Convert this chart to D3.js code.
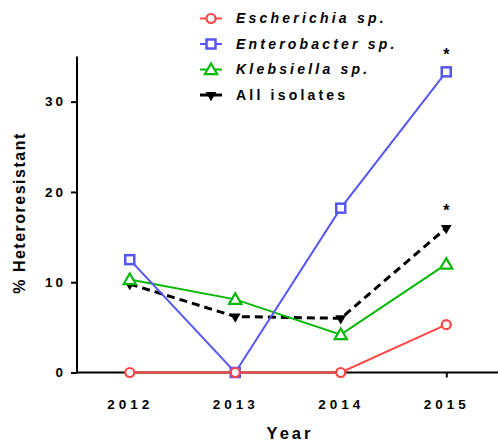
<!DOCTYPE html>
<html>
<head>
<meta charset="utf-8">
<script src="https://cdn.jsdelivr.net/npm/d3@7"></script>
<style>
  body { margin: 0; background: #fff; }
  text { font-family: Arial, "Liberation Sans", sans-serif; font-weight: bold; }
</style>
</head>
<body>
<div id="chart"></div>
<script>
// data
const years = [2012, 2013, 2014, 2015];
const escherichia = [0, 0, 0, 5.3];
const enterobacter = [12.5, 0, 18.2, 33.3];
const klebsiella = [10.3, 8.1, 4.2, 12.0];
const allIsolates = [9.8, 6.2, 6.0, 16.0];
const yTicks = [0, 10, 20, 30];
const seriesNames = ['Escherichia sp.', 'Enterobacter sp.', 'Klebsiella sp.', 'All isolates'];
const starYears = [2015, 2015];
const starValues = [33.3, 16.0];

const width = 498;
const height = 441;

const svg = d3
  .select('#chart')
  .append('svg')
  .attr('width', width)
  .attr('height', height);

const x = d3.scaleLinear().domain([2011.5, 2015.5]).range([77, 499]);
const y = d3.scaleLinear().domain([0, 35]).range([372.5, 56.5]);

const series = [
  { name: seriesNames[0], values: escherichia, color: '#ff4646', shape: 'circle', dash: null, width: 2 },
  { name: seriesNames[1], values: enterobacter, color: '#5656f5', shape: 'square', dash: null, width: 2 },
  { name: seriesNames[2], values: klebsiella, color: '#08b808', shape: 'triangle', dash: null, width: 2 },
  { name: seriesNames[3], values: allIsolates, color: '#000', shape: 'down', dash: '8,5', width: 3 },
];

// axes
const yAxis = svg
  .append('g')
  .attr('transform', 'translate(' + x.range()[0] + ',0)')
  .call(d3.axisLeft(y).tickValues(yTicks).tickSize(6).tickPadding(5));
const xAxis = svg
  .append('g')
  .attr('transform', 'translate(0,' + y(0) + ')')
  .call(d3.axisBottom(x).tickValues(years).tickFormat(d3.format('d')).tickSize(5).tickPadding(22));

[yAxis, xAxis].forEach((a) => {
  a.select('.domain').remove();
  a.selectAll('.tick line').attr('stroke-width', 2);
  a.selectAll('text').attr('font-size', 13.5).attr('letter-spacing', '3px').attr('fill', '#000');
});
xAxis.selectAll('text').attr('letter-spacing', '4px');
svg.append('line').attr('x1', x.range()[0]).attr('x2', x.range()[0])
  .attr('y1', y.range()[1]).attr('y2', y(0) + 1).attr('stroke', '#000').attr('stroke-width', 2);
svg.append('line').attr('x1', x.range()[0] - 1).attr('x2', x.range()[1])
  .attr('y1', y(0)).attr('y2', y(0)).attr('stroke', '#000').attr('stroke-width', 2);

// axis titles
svg.append('text')
  .attr('x', 290)
  .attr('y', 439)
  .attr('text-anchor', 'middle')
  .attr('font-size', 16.5)
  .attr('letter-spacing', '3px')
  .text('Year');
svg.append('text')
  .attr('transform', 'translate(25,213) rotate(-90)')
  .attr('text-anchor', 'middle')
  .attr('font-size', 16)
  .attr('letter-spacing', '1.5px')
  .text('% Heteroresistant');

// markers
function drawMarker(g, shape, color, cx, cy) {
  if (shape === 'circle') {
    g.append('circle').attr('cx', cx).attr('cy', cy).attr('r', 4.5)
      .attr('fill', '#fff').attr('stroke', color).attr('stroke-width', 2.2);
  } else if (shape === 'square') {
    g.append('rect').attr('x', cx - 4.5).attr('y', cy - 4.5).attr('width', 9).attr('height', 9)
      .attr('fill', '#fff').attr('stroke', color).attr('stroke-width', 2.5);
  } else if (shape === 'triangle') {
    g.append('path').attr('d', d3.symbol(d3.symbolTriangle, 65)())
      .attr('transform', 'translate(' + cx + ',' + (cy + 1) + ')')
      .attr('fill', '#fff').attr('stroke', color).attr('stroke-width', 2.2);
  } else {
    g.append('path').attr('d', d3.symbol(d3.symbolTriangle, 50)())
      .attr('transform', 'translate(' + cx + ',' + cy + ') rotate(180)')
      .attr('fill', color);
  }
}

const line = d3
  .line()
  .x((d, i) => x(years[i]))
  .y((d) => y(d));

const drawOrder = [3, 2, 1, 0];
drawOrder.forEach((k) => {
  const s = series[k];
  const g = svg.append('g');
  g.append('path')
    .datum(s.values)
    .attr('d', line)
    .attr('fill', 'none')
    .attr('stroke', s.color)
    .attr('stroke-width', s.width)
    .attr('stroke-dasharray', s.dash);
  s.values.forEach((v, i) => drawMarker(g, s.shape, s.color, x(years[i]), y(v)));
});

// significance stars
svg.selectAll('.star')
  .data(starValues)
  .join('text')
  .attr('class', 'star')
  .attr('x', (d, i) => x(starYears[i]))
  .attr('y', (d) => y(d) - 12)
  .attr('text-anchor', 'middle')
  .attr('font-size', 16)
  .text('*');

// legend
const legendX = 211;
const legendY = 18.5;
const legendStep = 25.5;
series.forEach((s, i) => {
  const g = svg.append('g');
  const ly = legendY + i * legendStep;
  g.append('line')
    .attr('x1', legendX - 11).attr('x2', legendX + 11)
    .attr('y1', ly).attr('y2', ly)
    .attr('stroke', s.color).attr('stroke-width', s.width);
  drawMarker(g, s.shape, s.color, legendX, ly);
  g.append('text')
    .attr('x', legendX + 25)
    .attr('y', ly)
    .attr('dy', '0.35em')
    .attr('font-size', 14)
    .attr('letter-spacing', '3.2px')
    .attr('font-style', i < 3 ? 'italic' : 'normal')
    .text(s.name);
});
</script>
</body>
</html>
